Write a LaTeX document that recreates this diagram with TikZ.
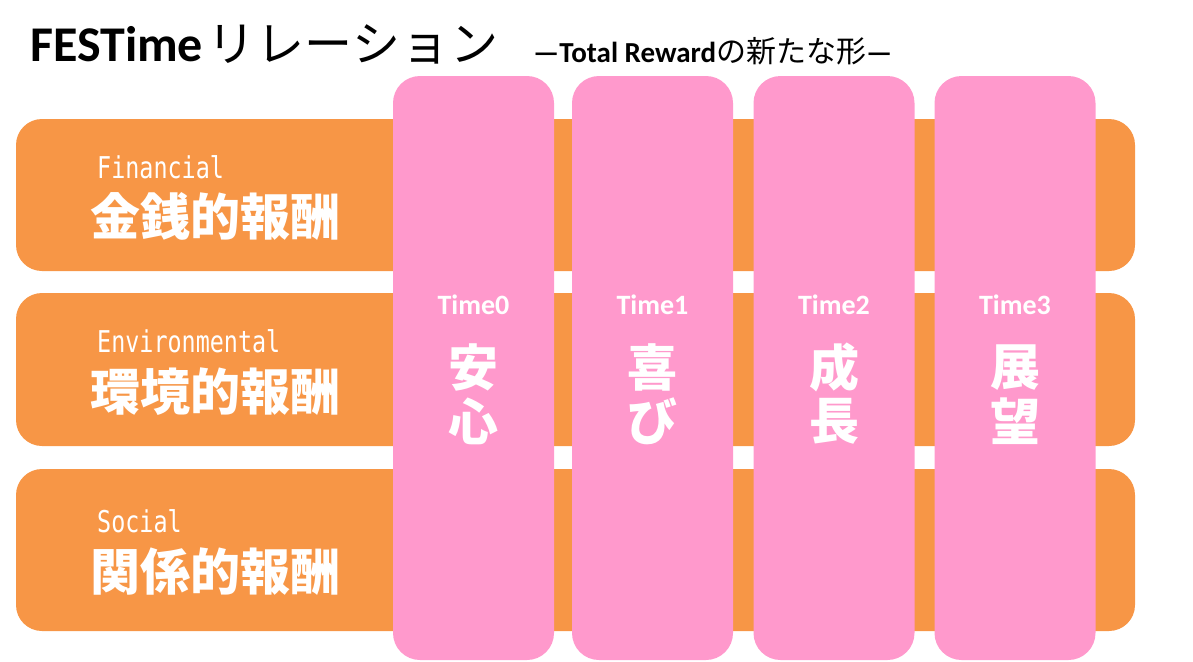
\documentclass[tikz,border=0pt]{standalone}
\usepackage{fontspec}
\setmainfont{Carlito}
\newfontfamily\jpfont{Noto Sans CJK JP}
\newfontfamily\monofont{DejaVu Sans Mono}[FakeStretch=0.78]
\usetikzlibrary{positioning}
\definecolor{bandorange}{HTML}{F79646}
\definecolor{timepink}{HTML}{FF99CC}

\begin{document}
\begin{tikzpicture}[x=1pt,y=-1pt,
band/.style={fill=bandorange, rounded corners=26pt, inner sep=0pt, minimum width=1119pt},
timecol/.style={fill=timepink, rounded corners=27pt, inner sep=0pt, minimum width=161pt, minimum height=584pt},
eng/.style={anchor=base west, inner sep=0pt, text=white, font=\monofont\fontsize{30}{30}\selectfont},
kanji/.style={anchor=west, inner sep=0pt, text=white, font=\jpfont\bfseries\fontsize{50}{50}\selectfont},
timelabel/.style={anchor=base, inner sep=0pt, text=white, font=\bfseries\fontsize{28}{28}\selectfont},
timeword/.style={inner sep=0pt, text=white, font=\jpfont\bfseries\fontsize{50}{50}\selectfont}]
\useasboundingbox (0,0) rectangle (1193,661);
\node[anchor=base west, inner sep=0pt, font=\bfseries\fontsize{50}{50}\selectfont] (title) at (30,62)
  {FESTime\hspace{4pt}{\jpfont\mdseries\fontsize{48}{48}\selectfont\addfontfeature{LetterSpace=2}リレーション}};
\node[anchor=base west, inner sep=0pt, font=\bfseries\fontsize{29}{29}\selectfont] (subtitle) at (533,63)
  {—Total Reward{\jpfont\mdseries\fontsize{30}{30}\selectfont の新たな形}—};
\node[band, minimum height=152pt] (financial) at (575.5,195) {};
\node[band, minimum height=153pt] (environmental) at (575.5,369.5) {};
\node[band, minimum height=162pt] (social) at (575.5,550) {};
\node[eng] (financial-en) at (97,178) {Financial};
\node[kanji] (financial-jp) at (90,216.5) {金銭的報酬};
\node[eng] (environmental-en) at (97,352) {Environmental};
\node[kanji] (environmental-jp) at (90,391.5) {環境的報酬};
\node[eng] (social-en) at (97,532) {Social};
\node[kanji] (social-jp) at (90,571.5) {関係的報酬};
\foreach \i/\x/\a/\b in {0/473.5/安/心,1/652.5/喜/び,2/834/成/長,3/1015/展/望}
{
\node[timecol] (col\i) at (\x,368) {};
\node[timelabel] (time\i) at (\x,314) {Time\i};
\node[timeword] (word\i-a) at (\x,367.5) {\a};
\node[timeword] (word\i-b) at (\x,421) {\b};
}
\end{tikzpicture}
\end{document}
